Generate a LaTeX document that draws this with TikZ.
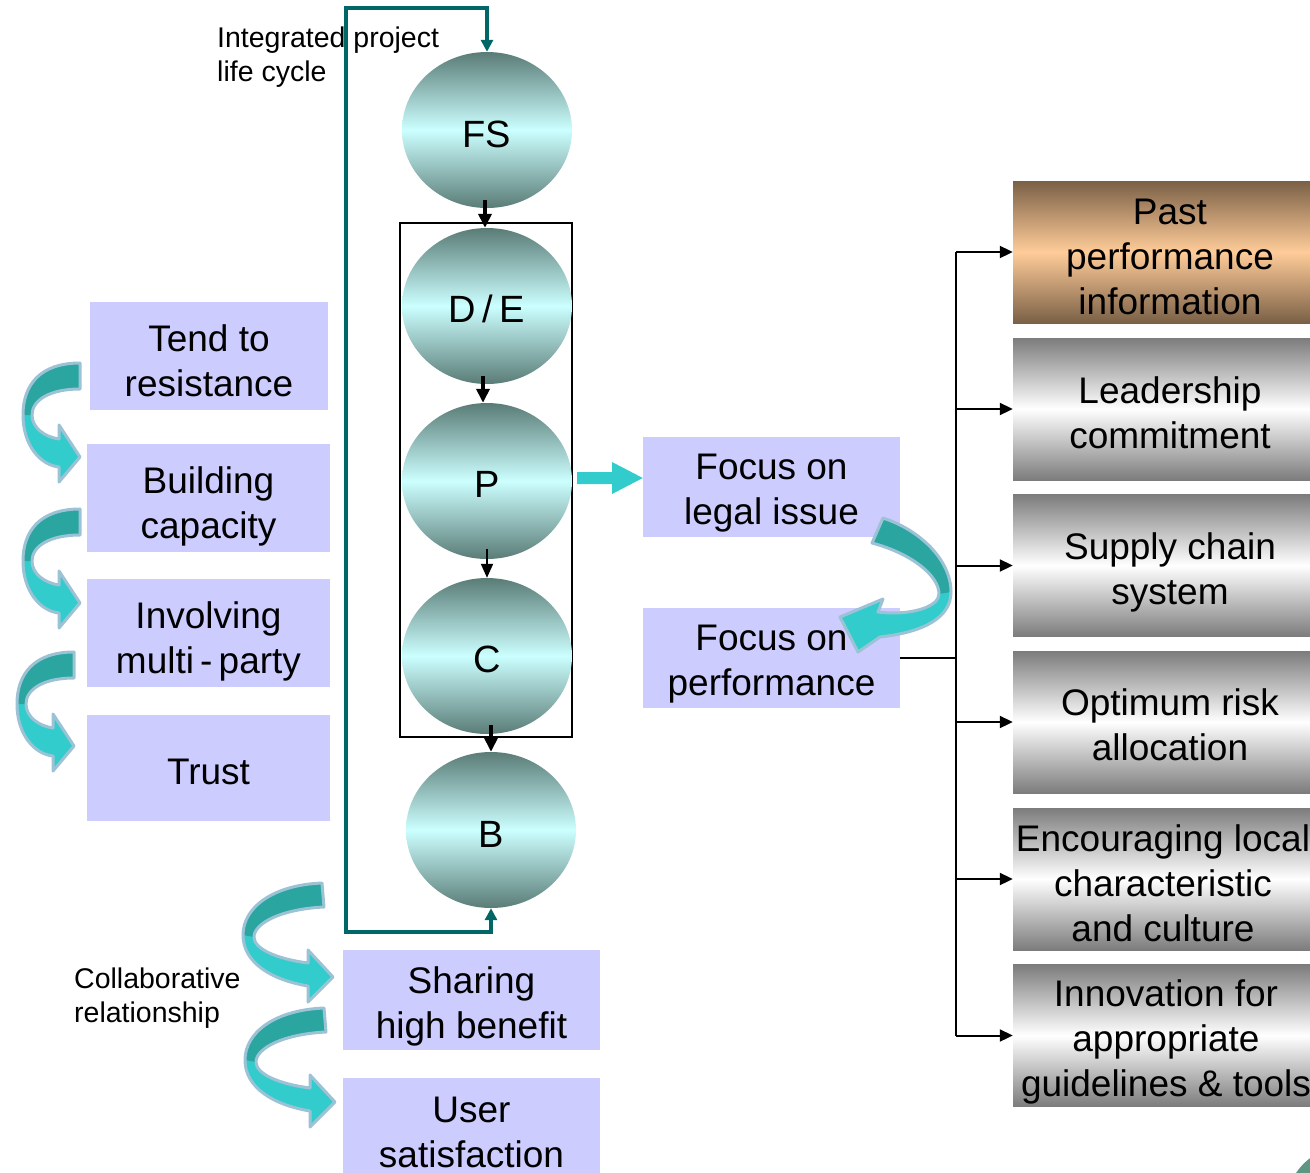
\documentclass[tikz,border=0pt]{standalone}
\usepackage{fontspec}
\setmainfont{Liberation Sans}
\usetikzlibrary{arrows.meta,shapes.geometric,calc}

\definecolor{lavbox}{RGB}{204,204,255}
\definecolor{orbdark}{RGB}{90,124,119}
\definecolor{orblight}{RGB}{204,255,255}
\definecolor{loopteal}{RGB}{0,102,102}
\definecolor{ribdark}{RGB}{43,165,160}
\definecolor{riblight}{RGB}{51,204,204}
\definecolor{ribedge}{RGB}{156,195,213}
\definecolor{bronzedark}{RGB}{122,96,70}
\definecolor{bronzelight}{RGB}{255,204,153}
\definecolor{steeldark}{RGB}{124,124,124}
\definecolor{cornerteal}{RGB}{94,150,132}

% curved ribbon arrows (local coordinates, origin = upper corner of the tail)
\newcommand\ribLfull{(0,0) .. controls (-40,0) and (-57,22) .. (-57,52)
  .. controls (-57,82) and (-40,102) .. (-21,104) -- (-21,119) -- (0,94) -- (-21,62) -- (-21,76)
  .. controls (-35,74) and (-48,65) .. (-48,52) .. controls (-48,37) and (-30,26) .. (0,26) -- cycle}
\newcommand\ribLback{(0,0) .. controls (-40,0) and (-57,22) .. (-57,52) -- (-48,52)
  .. controls (-48,37) and (-30,26) .. (0,26) -- cycle}
\newcommand\ribBfull{(0,0) .. controls (-50,2) and (-79,25) .. (-79,52)
  .. controls (-79,80) and (-50,97) .. (-14,103) -- (-14,119) -- (11,94) -- (-14,67) -- (-14,80)
  .. controls (-45,76) and (-68,66) .. (-68,54) .. controls (-68,40) and (-40,26) .. (2,24) -- cycle}
\newcommand\ribBback{(0,0) .. controls (-50,2) and (-79,25) .. (-79,52) -- (-68,54)
  .. controls (-68,40) and (-40,26) .. (2,24) -- cycle}
\newcommand\ribMfull{(883,518) .. controls (920,530) and (951,560) .. (951,592)
  .. controls (951,617) and (925,632) .. (880,637) -- (858,652) -- (840,617) -- (883,599) -- (878,612)
  .. controls (910,616) and (939,607) .. (939,594) .. controls (939,575) and (910,553) .. (872,543) -- cycle}
\newcommand\ribMback{(883,518) .. controls (920,530) and (951,560) .. (951,592) -- (939,594)
  .. controls (939,575) and (910,553) .. (872,543) -- cycle}

\tikzset{
  boxtext/.style={font=\fontsize{37}{45}\selectfont, align=center, inner sep=0pt},
  notetext/.style={font=\fontsize{28.5}{34}\selectfont, align=left, anchor=west, inner sep=0pt},
  orbtext/.style={font=\fontsize{38}{45}\selectfont, inner sep=0pt},
  lav/.style={fill=lavbox, inner sep=0pt},
  orb/.style={ellipse, minimum width=170pt, minimum height=156pt, inner sep=0pt,
    top color=orbdark, bottom color=orbdark, middle color=orblight},
  grpframe/.style={draw=black, line width=1.5pt, minimum width=172pt, minimum height=514pt, inner sep=0pt},
  bronzebox/.style={inner sep=0pt, minimum width=314pt, minimum height=142pt,
    top color=bronzedark, bottom color=bronzedark, middle color=bronzelight},
  steelbox/.style={inner sep=0pt, minimum width=314pt, minimum height=142pt,
    top color=steeldark, bottom color=steeldark, middle color=white},
  stepflow/.style={line width=3.5pt, -{Triangle[width=13pt,length=14pt]}},
  thinflow/.style={line width=2pt, -{Triangle[width=12pt,length=14pt]}},
  cyclepath/.style={draw=loopteal, line width=3.5pt,
    {Triangle[width=12pt,length=12pt]}-{Triangle[width=12pt,length=12pt]}},
  bus/.style={line width=2pt},
  busarrow/.style={line width=2pt, -{Triangle[width=12pt,length=13pt]}},
  ribbonL/.pic={\fill[riblight] \ribLfull; \fill[ribdark] \ribLback;
    \draw[ribedge, line width=3pt, line join=round] \ribLfull;},
  ribbonB/.pic={\fill[riblight] \ribBfull; \fill[ribdark] \ribBback;
    \draw[ribedge, line width=3pt, line join=round] \ribBfull;},
  ribbonM/.pic={\fill[riblight] \ribMfull; \fill[ribdark] \ribMback;
    \draw[ribedge, line width=3pt, line join=round] \ribMfull;},
}

\begin{document}
\begin{tikzpicture}[x=1pt, y=-1pt]
\useasboundingbox (0,0) rectangle (1310,1173);
\clip (0,0) rectangle (1310,1173);

% life-cycle stages
\node[grpframe] (grp) at (486,480) {};
\node[orb] (FS) at (487,130) {};
\node[orb] (DE) at (487,306) {};
\node[orb] (P)  at (487,481) {};
\node[orb] (C)  at (487,656) {};
\node[orb] (B)  at (491,830) {};
\node[orbtext] (FSt) at ($(FS)+(0,4)$) {FS};
\node[orbtext] (DEt) at ($(DE)+(0,3)$) {D\,/\,E};
\node[orbtext] (Pt)  at ($(P)+(0,3)$) {P};
\node[orbtext] (Ct)  at ($(C)+(0,3)$) {C};
\node[orbtext] (Bt)  at ($(B)+(0,4)$) {B};

\draw[stepflow, shorten <=-8pt] (FS.south -| 485,0) -- (DE.north -| 485,0);
\draw[stepflow, shorten <=-8pt] (DE.south -| 483,0) -- (P.north -| 483,0);
\draw[thinflow, shorten <=-10pt] (P.south) -- (C.north);
\draw[stepflow, shorten <=-9pt] (C.south -| B.north) -- (B.north);

% integrated loop
\coordinate (loopL) at (346,932);
\coordinate (loopT) at (487,8);
\draw[cyclepath] (B.south) |- (loopL) |- (loopT) -- (FS.north);
\node[notetext] (ipl) at (217,57) {Integrated project\\life cycle};

% left column
\node[lav, minimum width=238pt, minimum height=108pt] (L1) at (209,356) {};
\node[lav, minimum width=243pt, minimum height=108pt] (L2) at (208.5,498) {};
\node[lav, minimum width=243pt, minimum height=108pt] (L3) at (208.5,633) {};
\node[lav, minimum width=243pt, minimum height=106pt] (L4) at (208.5,768) {};
\node[boxtext] (L1t) at ($(L1)+(0,5)$) {Tend to\\resistance};
\node[boxtext] (L2t) at ($(L2)+(0,8)$) {Building\\capacity};
\node[boxtext] (L3t) at ($(L3)+(0,8)$) {Involving\\multi\,-\,party};
\node[boxtext] (L4t) at ($(L4)+(0,4)$) {Trust};
\pic at (80,363) {ribbonL};
\pic at (80,509) {ribbonL};
\pic at (74,652) {ribbonL};

% bottom group
\node[notetext] (collab) at (74,998) {Collaborative\\relationship};
\node[lav, minimum width=257pt, minimum height=100pt] (share) at (471.5,1000) {};
\node[lav, minimum width=257pt, minimum height=100pt] (user) at (471.5,1128) {};
\node[boxtext] (sharet) at ($(share)+(0,6)$) {Sharing\\high benefit};
\node[boxtext] (usert) at ($(user)+(0,4)$) {User\\satisfaction};
\pic at (322,883) {ribbonB};
\pic at (324,1008) {ribbonB};

% middle column
\node[lav, minimum width=257pt, minimum height=100pt] (legal) at (771.5,487) {};
\node[lav, minimum width=257pt, minimum height=100pt] (perf) at (771.5,658) {};
\node[boxtext] (legalt) at ($(legal)+(0,6)$) {Focus on\\legal issue};
\node[boxtext] (perft) at ($(perf)+(0,6)$) {Focus on\\performance};
\fill[riblight] (577,472) -- (612,472) -- (612,462) -- (legal.west |- 0,478) -- (612,494) -- (612,484) -- (577,484) -- cycle;
\pic at (0,0) {ribbonM};

% right column
\node[bronzebox] (R1) at (1170,252) {};
\node[steelbox] (R2) at (1170,409) {};
\node[steelbox] (R3) at (1170,565.5) {};
\node[steelbox] (R4) at (1170,722) {};
\node[steelbox] (R5) at (1170,879) {};
\node[steelbox] (R6) at (1170,1035.5) {};
\node[boxtext] (R1t) at ($(R1)+(0,5)$) {Past\\performance\\information};
\node[boxtext] (R2t) at ($(R2)+(0,4)$) {Leadership\\commitment};
\node[boxtext] (R3t) at ($(R3)+(0,7)$) {Supply chain\\system};
\node[boxtext] (R4t) at ($(R4)+(0,3)$) {Optimum risk\\allocation};
\node[boxtext] (R5t) at ($(R5)+(-7,4)$) {Encouraging local\\characteristic\\and culture};
\node[boxtext] (R6t) at ($(R6)+(-4,6)$) {Innovation for\\appropriate\\guidelines \& tools};

\coordinate (spine) at (956,658);
\draw[bus] (perf.east) -- (spine);
\draw[bus] (spine |- R1.west) -- (spine |- R6.west);
\foreach \r in {R1,R2,R3,R4,R5,R6}
  \draw[busarrow] (spine |- \r.west) -- (\r.west);

% corner ornament
\fill[cornerteal] (1345,1205) circle (58.5pt);
\end{tikzpicture}
\end{document}
